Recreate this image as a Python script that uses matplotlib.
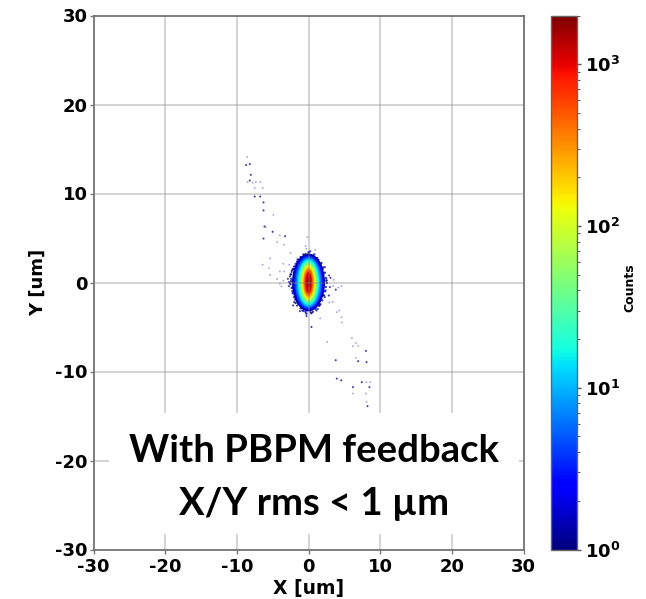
import matplotlib
matplotlib.use('Agg')
import matplotlib.pyplot as plt
from matplotlib.colors import LogNorm
from matplotlib.patches import Ellipse, Rectangle

plt.rcParams['font.family'] = 'DejaVu Sans'
plt.rcParams['font.weight'] = 'bold'
plt.rcParams['mathtext.default'] = 'bf'
plt.rcParams['axes.unicode_minus'] = False

# Tick values
axis_ticks = [-30, -20, -10, 0, 10, 20, 30]

# Core of the beam: counts level and half widths of that contour [um]
core_counts = [1, 1.5, 2.5, 4, 6, 10, 16, 25, 40, 65, 100, 160, 250, 400, 650, 1000, 1400, 1900]
core_half_x = [2.30, 2.20, 2.08, 1.95, 1.80, 1.62, 1.48, 1.33, 1.20, 1.08, 0.97, 0.87, 0.78, 0.68, 0.56, 0.46, 0.30, 0.14]
core_half_y = [3.25, 3.17, 3.07, 2.96, 2.84, 2.70, 2.56, 2.40, 2.26, 2.12, 1.98, 1.82, 1.68, 1.52, 1.32, 1.14, 0.80, 0.35]

# Single counts, well marked
strong_x = [-2.6, -2.88, -2.74, -2.51, -2.74, -2.28, -2.05, -2.14, -1.21, -0.88, -0.28, 0.28, 1.12, 1.3,
            2.05, 2.28, 2.84, 2.98, 3.07, 2.88, 2.28, 2.0, 1.44, 1.07, 0.51, 0.05, -0.42, -1.02, -1.35,
            -1.81, -2.19, -2.37, -2.2, -2.45, -2.0, 2.4, 2.5, 1.7, -1.6, 1.5, 3.8,
            -8.7, -8.19, -8.05, -8.19, -7.5, -6.74, -6.28, -6.28, -6.14, -5.0, -3.26, -6.28, 0.42,
            8.0, 3.8, 8.1, 3.95, 4.56, 7.44, 8.5, 6.2, 8.23, 6.93]
strong_y = [0.67, 0.41, 0.04, -0.22, -0.41, -0.97, -1.65, -2.58, -3.22, -3.15, -3.78, -3.33, -3.15, -2.96,
            -1.46, -1.65, -1.46, -0.52, 0.52, 0.79, 1.72, 1.54, 2.28, 2.58, 3.03, 3.3, 3.22, 2.85, 2.55,
            2.1, 1.54, 1.16, -0.6, 0.9, -2.2, -0.9, 0.2, 2.0, -2.6, -2.6, -0.8,
            13.2, 13.3, 12.1, 11.46, 9.66, 9.66, 9.0, 8.1, 6.3, 5.7, 5.2, 4.94, -5.0,
            -7.68, -8.73, -8.95, -10.8, -11.0, -11.2, -11.76, -11.76, -13.9, -8.84]

# Speckle hugging the edge of the core, a few counts each
edge_x = [-2.5, -2.4, -2.55, -2.35, -2.45, -2.2, -2.3, -2.0, -1.85, -1.6, -1.4, -1.1, -0.7, -0.4, 0.0, 0.4, 0.8,
          1.2, 1.5, 1.8, 2.05, 2.3, 2.45, 2.55, 2.4, 2.5, 2.3, 2.15, 1.9, 1.65, 1.35, 1.0, 0.6, 0.2, -0.3, -0.7, -1.1, -1.5, -1.8, -2.1]
edge_y = [0.9, 0.4, -0.1, -0.6, 0.15, -1.2, 1.35, 1.8, -1.9, 2.35, -2.45, 2.85, 3.15, -3.3, 3.4, -3.45, 3.15,
          2.75, -2.6, 2.2, 1.7, 1.1, 0.5, -0.05, -0.5, 0.25, -1.0, -1.45, -2.0, -2.45, 2.55, -3.0, -3.3, 3.5, -3.5, -3.2, -2.9, 2.6, -2.3, 1.5]
edge_c = [1, 2, 1, 2, 1, 2, 1, 2, 1, 2, 3, 2, 1, 2, 3, 1, 2,
          1, 2, 1, 2, 1, 2, 1, 2, 1, 3, 1, 2, 1, 2, 3, 1, 2, 1, 2, 1, 2, 1, 2]

# Single counts, faint after the picture was scaled down
faint_x = [-8.56, -8.5, -7.8, -7.35, -6.74, -7.5, -6.4, -4.9, -5.95, -4.0, -4.37, -3.44, -0.14, -0.4, -0.3,
           0.93, -2.5, -5.35, -6.4, -5.5, -3.5, -2.7, -4.0, -3.4, -5.35, -4.37, -3.5, -4.0, -3.77,
           4.6, 4.14, 3.5, 3.44, 3.35, 2.9, 4.28, 3.95, 4.6, 4.65, 1.63, 2.6, 6.05, 6.6, 6.2, 6.93,
           6.6, 8.1, 8.6, 6.2, 8.0, 8.1]
faint_y = [14.1, 11.3, 11.2, 11.3, 11.3, 10.6, 10.6, 7.6, 6.2, 5.3, 4.53, 4.23, 5.1, 4.1, 3.8,
           3.67, 3.3, 2.7, 2.0, 1.6, 2.1, 2.0, 1.24, 1.24, 0.86, 0.4, 0.2, -0.15, -0.45,
           -0.4, -0.56, 0.3, -0.4, -2.17, -2.25, -3.15, -3.33, -3.9, -4.5, -4.04, -6.67, -6.25, -6.8, -7.15, -7.15,
           -8.46, -11.2, -11.2, -12.47, -12.47, -13.4]

norm = LogNorm(vmin=1, vmax=2000)
cmap = plt.get_cmap('jet')

fig = plt.figure(figsize=(6.46, 5.99), dpi=100)
ax = fig.add_axes([93.5/646, 1 - 549.5/599, 430/646, 534/599])
cax = fig.add_axes([551/646, 1 - 549.5/599, 26/646, 534/599])

# Beam core, outermost contour first
for c, hx, hy in zip(core_counts, core_half_x, core_half_y):
    ax.add_patch(Ellipse((0, 0), 2*hx, 2*hy, facecolor=cmap(norm(c)), edgecolor='none'))

ax.scatter(edge_x, edge_y, c=edge_c, cmap=cmap, norm=norm, s=3, marker='o', linewidths=0, alpha=0.8, snap=False)
ax.scatter(strong_x, strong_y, c=[1]*len(strong_x), cmap=cmap, norm=norm, s=2.2, marker='o', linewidths=0,
           alpha=0.75, snap=False)
ax.scatter(faint_x, faint_y, c=[1]*len(faint_x), cmap=cmap, norm=norm, s=1.8, marker='o',
           linewidths=0, alpha=0.35, snap=False)

ax.set_xlim(-30, 30)
ax.set_ylim(-30, 30)
ax.set_xticks(axis_ticks)
ax.set_yticks(axis_ticks)
ax.grid(True, color='#808080', alpha=0.4, linewidth=1.2)
ax.set_axisbelow(False)
ax.tick_params(labelsize=13, length=3, width=1, color='#777777')
ax.tick_params(axis='x', pad=3)
ax.tick_params(axis='y', pad=1)
ax.set_xlabel('X [um]', fontsize=13.5, fontweight='bold', labelpad=2)
ax.set_ylabel('Y [um]', fontsize=13, fontweight='bold', labelpad=6)
for s in ax.spines.values():
    s.set_color('#666666')
    s.set_linewidth(1.2)

# White box pasted under the annotation hides the grid
ax.add_patch(Rectangle((-27.9, -28.3), 57.3, 13.6, facecolor='white', edgecolor='none', zorder=3))
ax.text(0.8, -18.9, 'With PBPM feedback', family='Lato', fontweight='bold', fontsize=27.5,
        ha='center', va='center', zorder=4)
ax.text(0.8, -24.85, 'X/Y rms < 1 µm', family='Lato', fontweight='bold', fontsize=27.5,
        ha='center', va='center', zorder=4)

sm = plt.cm.ScalarMappable(norm=norm, cmap=cmap)
cb = fig.colorbar(sm, cax=cax)
cb.set_label('Counts', fontsize=9, fontweight='bold', labelpad=2, y=0.49)
cb.ax.tick_params(which='major', labelsize=13, length=3, width=1, color='#555555', pad=3)
cb.ax.tick_params(which='minor', length=2, width=0.7, color='#555555')
cb.outline.set_edgecolor('#666666')
cb.outline.set_linewidth(1)

fig.savefig('out.png', dpi=100)
